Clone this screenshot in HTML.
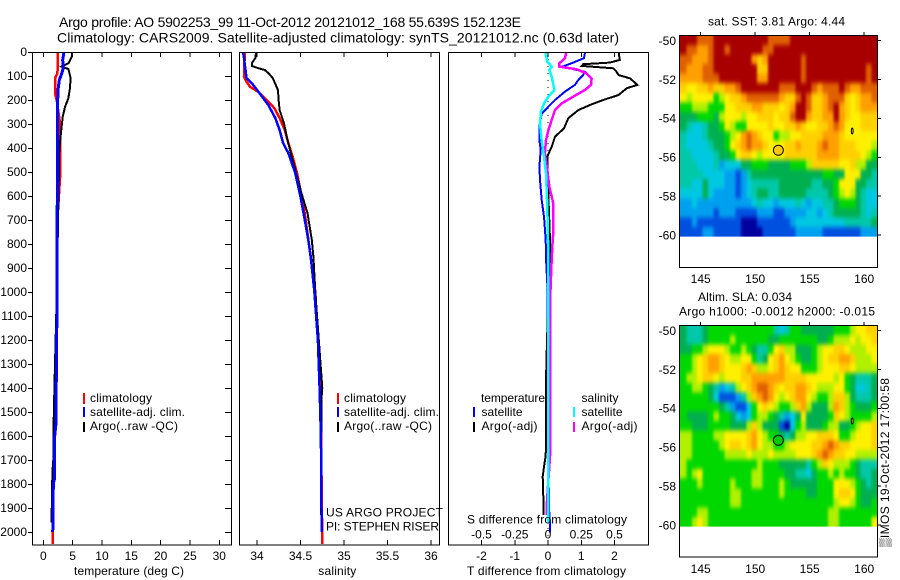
<!DOCTYPE html>
<html lang="en">
<head>
<meta charset="utf-8">
<title>Argo profile 5902253_99</title>
<style>
html,body{margin:0;padding:0;background:#fff;}
body{width:900px;height:580px;overflow:hidden;}
svg{display:block;font-family:"Liberation Sans",sans-serif;font-size:12px;fill:#000;}
</style>
</head>
<body>
<svg id="chart" width="900" height="580" viewBox="0 0 900 580" xmlns="http://www.w3.org/2000/svg">
<defs>
<filter id="map-smooth" x="-5%" y="-5%" width="110%" height="110%" color-interpolation-filters="sRGB"><feGaussianBlur stdDeviation="1.3 2.3"/></filter>
<clipPath id="sst-clip"><rect x="679.5" y="35.5" width="198" height="201.1"/></clipPath>
<clipPath id="sla-clip"><rect x="679.5" y="325.5" width="198" height="201.1"/></clipPath>
</defs>
</svg>
<script>
// ---------- tick labels ----------
const depthTicks = [0,100,200,300,400,500,600,700,800,900,1000,1100,1200,1300,1400,1500,1600,1700,1800,1900,2000];
const tempTicks = [0,5,10,15,20,25,30];
const salTicks = [34,34.5,35,35.5,36];
const tDiffTicks = [-2,-1,0,1,2];
const sDiffTicks = [-0.5,-0.25,0,0.25,0.5];
const lonTicks = [145,150,155,160];
const latTicks = [-50,-52,-54,-56,-58,-60];

// ---------- temperature panel ----------
const tempClimDepth = [0,60,90,108,172,200,255,297,477,525,700,1000,1400,1950,2050];
const tempClimValue = [2.45,2.45,2.4,2.0,2.0,2.28,2.6,2.85,2.85,2.85,2.4,2.3,2.1,1.57,1.57];
const tempSatDepth = [0,33,68,90,117,158,200,550,1000,1400,1550,1600,1780,1800,1960,2000];
const tempSatValue = [3.53,3.3,3.4,3.13,2.73,2.5,2.45,2.39,2.35,2.2,2.15,1.95,1.9,1.7,1.65,1.6];
const tempArgoDepth = [0,19,47,61,71,108,150,192,229,270,339,408,1000,1350,1550,1700,1750,1960];
const tempArgoValue = [4.95,4.85,4.27,3.13,4.27,4.66,4.55,4.27,3.7,3.3,3.0,2.73,2.3,1.95,1.75,1.7,1.55,1.4];

// ---------- salinity panel ----------
const salClimDepth = [0,103,124,145,165,186,207,234,275,325,379,437,505,630,700,1000,1400,2050];
const salClimValue = [33.86,33.85,33.88,33.92,34.01,34.07,34.13,34.2,34.26,34.32,34.36,34.41,34.46,34.53,34.56,34.67,34.73,34.75];
const salSatDepth = [0,25,54,82,110,130,172,221,275,325,379,421,505,603,700,783,858,1000,1200,1400,1600,2000];
const salSatValue = [33.84,33.85,33.86,33.87,33.88,33.94,34.03,34.13,34.21,34.26,34.3,34.36,34.44,34.5,34.55,34.59,34.62,34.66,34.7,34.72,34.735,34.744];
const salArgoDepth = [0,25,47,58,67,75,88,108,158,208,242,297,367,437,505,588,671,783,858,1000,1200,1400,1450,1930];
const salArgoValue = [33.99,33.98,33.94,33.94,34.01,34.09,34.13,34.18,34.24,34.25,34.26,34.31,34.35,34.4,34.45,34.51,34.58,34.63,34.65,34.67,34.71,34.75,34.74,34.735];

// ---------- difference panel (T in deg C, S in psu) ----------
const dtSatDepth = [0,6,26,44,61,83,96,117,137,165,200,235,256,311,367,408,478,533,617,686,783,860,1000,1300,1900,1964,2003];
const dtSatValue = [1.11,1.11,1.08,0.76,0.44,1.11,1.06,0.91,0.81,0.51,0.21,-0.04,-0.19,-0.26,-0.26,-0.22,-0.26,-0.24,-0.19,-0.12,-0.07,-0.06,-0.01,-0.02,0.03,0.06,0.06];
const dtArgoDepth = [0,6,33,44,51,58,68,78,96,110,137,151,179,200,221,242,276,318,353,394,436,478,589,783,860,1000,1200,1367,1658,1692,1728,1769,1853,1929];
const dtArgoValue = [2.13,2.13,2.16,1.86,1.06,1.01,1.96,2.04,2.12,2.47,2.69,2.37,2.12,1.66,1.26,0.91,0.61,0.48,0.21,0.11,-0.02,-0.02,0.01,0.06,0.06,0.02,-0.03,-0.06,-0.06,-0.08,-0.12,-0.16,-0.14,-0.13];
const dsArgoDepth = [0,6,26,47,61,72,89,110,137,158,186,214,242,283,325,367,422,492,561,631,756,783,860,1000,1658,1890,1929];
const dsArgoValue = [0.135,0.135,0.128,0.085,0.085,0.215,0.29,0.328,0.323,0.278,0.19,0.103,0.053,0.028,0.003,-0.015,-0.023,-0.005,0.01,0.04,0.04,0.035,0.028,0.018,0.018,-0.01,-0.01];
const dsSatDepth = [0,6,40,61,75,103,158,186,214,249,297,367,436,506,644,860,1964];
const dsSatValue = [-0.018,-0.018,-0.005,0.028,0.01,0.028,0.048,0.003,-0.03,-0.053,-0.06,-0.048,-0.03,-0.015,-0.005,0.003,0.003];

// ---------- map cells: colour level per 0.5 deg lon column, north to south ----------
const sstGrid = [
[12,12,12,11,11,11,12,12,12,12,12,12,12,12,12,12,11,11,11,11,12,12,12,12,12,12,12,12,12,12,12,12,12,12,12,12],
[12,11,11,10,10,11,12,12,11,12,12,12,12,12,12,11,11,12,12,12,12,12,12,12,12,12,12,12,12,12,12,12,12,12,12,12],
[11,11,10,10,10,11,12,12,12,12,12,12,12,10,9,10,12,12,12,12,12,12,11,12,12,12,12,12,12,12,12,12,12,12,12,12],
[11,10,10,10,11,11,12,12,12,12,12,12,12,12,9,9,12,12,12,12,12,12,11,12,12,12,12,12,12,12,12,12,12,12,11,12],
[10,10,10,10,11,11,11,12,12,12,12,12,12,12,10,10,12,12,12,12,12,12,11,12,12,12,12,12,12,12,12,12,12,12,11,12],
[9,8,8,9,9,10,9,9,10,10,11,12,12,12,12,12,12,12,11,11,11,12,12,12,11,10,11,11,11,12,11,10,10,11,11,11],
[8,7,8,8,8,8,6,7,8,9,9,10,11,11,11,11,11,11,10,9,9,11,12,11,9,9,10,11,11,11,9,8,9,10,10,11],
[6,6,7,7,7,6,6,6,8,8,9,9,9,10,10,9,9,9,8,9,10,12,12,11,9,9,10,11,12,10,9,8,9,10,10,10],
[5,5,5,6,6,6,5,7,8,8,8,7,8,8,9,9,9,8,9,9,11,12,12,10,9,9,10,10,12,10,9,8,8,9,9,9],
[5,4,3,3,4,5,5,6,8,7,6,6,8,8,8,8,9,8,8,9,9,10,9,8,8,9,9,10,11,10,8,8,8,9,9,9],
[4,3,3,3,4,5,5,5,6,7,8,10,11,10,9,8,8,6,7,7,8,8,9,9,9,9,10,10,10,9,8,8,8,8,8,8],
[4,3,3,3,3,4,5,5,6,8,9,10,11,10,10,9,8,8,8,9,9,10,9,9,9,10,11,10,10,9,9,9,8,8,8,7],
[4,4,3,3,3,3,4,5,5,6,8,9,9,8,7,8,8,8,8,9,9,9,9,9,9,10,10,10,10,9,9,9,9,8,7,6],
[4,4,4,3,3,3,4,2,3,3,3,5,5,6,6,6,5,5,5,5,6,6,6,7,9,9,9,9,9,8,8,9,7,7,5,5],
[4,4,4,4,3,3,3,3,2,2,1,2,4,5,5,5,5,5,5,5,5,5,5,5,5,5,6,6,5,5,8,8,8,5,5,4],
[4,4,3,3,5,3,3,3,2,2,1,2,3,4,4,4,4,4,5,5,5,5,5,5,4,4,5,5,6,8,8,8,5,5,4,4],
[3,3,3,3,5,3,2,2,2,2,1,2,3,4,5,5,4,4,5,5,5,5,5,4,4,4,4,5,6,7,8,7,5,4,3,3],
[2,2,3,2,2,2,2,2,2,2,2,2,2,3,4,3,3,2,3,3,3,4,3,2,3,3,4,4,5,6,6,6,5,4,3,3],
[2,2,2,2,2,2,1,2,2,2,1,1,1,1,2,2,2,1,1,2,2,2,2,3,3,2,3,4,5,5,5,5,5,4,3,4],
[1,1,2,1,1,1,1,1,1,1,1,0,0,0,1,1,1,1,1,1,2,3,3,3,3,3,3,3,3,3,4,4,4,4,4,5],
[1,1,1,1,2,2,1,1,1,1,1,0,0,0,0,1,1,1,1,1,1,2,2,2,2,2,1,1,1,1,1,1,1,2,2,2]
];
const slaGrid = [
[5,4,4,4,5,6,6,6,6,6,6,6,6,6,6,6,6,4,3,4,6,6,5,5,5,5,5,5,6,6,6,7,8,8,9,9],
[5,4,4,4,5,6,6,6,6,7,6,6,6,6,6,6,5,5,6,6,6,6,6,6,6,5,5,6,7,7,7,8,7,8,8,9],
[5,5,6,6,7,8,8,8,7,6,6,7,6,5,4,4,6,8,9,7,7,5,5,5,6,7,8,8,9,9,8,7,7,7,8,8],
[6,6,7,8,9,10,10,9,8,7,7,8,8,6,4,5,8,9,10,8,7,6,5,5,6,7,8,9,9,10,10,9,7,7,7,8],
[6,6,7,8,9,10,10,9,8,8,8,9,10,9,7,7,8,9,10,9,8,8,6,6,6,7,8,8,8,9,9,8,7,7,7,7],
[6,7,7,8,9,9,8,7,8,8,8,9,9,10,10,10,10,10,10,9,9,9,9,8,8,8,8,8,7,8,6,5,4,4,4,5],
[6,6,7,7,6,5,4,2,3,4,7,8,9,10,11,11,10,9,8,9,9,10,10,9,8,7,7,7,8,8,6,5,3,3,4,5],
[6,6,6,6,6,5,3,1,1,1,2,4,7,9,10,11,10,8,7,8,9,10,10,8,7,6,6,7,9,9,7,5,4,4,4,5],
[6,6,6,6,6,6,6,5,4,2,1,1,3,6,8,9,8,7,6,6,7,9,10,7,5,5,5,7,10,9,7,6,5,5,5,6],
[6,5,5,5,5,6,7,6,6,5,3,2,3,6,7,7,6,5,4,2,3,5,8,5,5,5,5,6,9,8,7,6,6,6,6,7],
[6,6,5,5,5,6,6,6,6,5,5,5,7,9,7,5,5,5,1,0,3,6,7,5,5,5,6,7,7,5,5,6,7,8,8,9],
[7,7,6,6,6,6,7,7,8,8,8,8,9,10,8,7,6,6,5,4,5,7,7,8,8,9,9,9,8,6,6,7,8,8,8,9],
[7,7,6,6,6,6,6,7,8,9,9,8,9,10,8,7,7,6,6,7,8,8,8,8,9,9,10,11,10,9,9,8,8,8,8,9],
[7,7,6,6,6,6,6,6,7,7,7,7,8,7,7,7,8,7,7,7,7,8,8,8,9,10,11,10,9,9,8,8,7,7,7,7],
[7,6,6,6,6,6,6,6,6,6,6,6,6,6,7,6,6,6,5,5,5,5,5,4,6,7,9,8,7,7,7,6,5,4,4,4],
[7,6,7,8,6,6,6,6,6,6,6,6,6,7,7,6,6,6,6,5,5,4,4,3,5,6,6,7,6,7,6,6,5,4,4,5],
[6,6,6,7,6,6,6,6,6,7,6,6,6,7,7,6,6,6,7,6,5,5,5,5,5,6,6,6,8,8,8,7,6,5,4,5],
[6,6,6,6,6,6,6,6,6,7,7,6,6,6,6,6,6,6,7,6,6,6,6,5,5,6,6,6,8,9,9,8,6,5,5,5],
[6,6,6,6,6,6,6,6,6,7,7,6,6,6,6,6,6,6,6,6,6,6,6,6,6,6,6,6,7,8,8,7,6,5,5,6],
[6,6,6,7,7,6,6,6,6,6,6,6,6,6,6,6,6,6,6,6,6,6,6,6,6,6,6,7,7,6,6,6,6,6,6,6],
[6,6,7,8,7,6,6,6,6,6,6,6,6,6,6,6,6,6,6,6,6,6,6,6,6,6,6,7,7,6,6,6,6,6,6,8]
];
const levelColors = ['#0000a0','#0050e0','#00a0f0','#00c8e0','#00c8a8','#00b050','#00d800','#b0f000','#fff000','#ffd000','#ffa000','#e06000','#a80000'];
const floatLon = 152.123;
const floatLat = -55.639;
const islandLon = 158.9;
const islandLat = -54.65;

// ---------- axis functions ----------
const svgNS = 'http://www.w3.org/2000/svg';
const chart = document.getElementById('chart');
const yDepth = d => 52 + d * 0.24;
const xTemp = t => 43.3 + t * 5.867;
const xSal = s => 257 + (s - 34) * 87;
const xDT = t => 548 + t * 33.25;
const xDS = s => 548 + s * 133;
const xLon = lon => 700.7 + (lon - 145) * 10.9;
const yLat1 = lat => 40.7 + (-50 - lat) * 19.43;
const yLat2 = lat => 330.7 + (-50 - lat) * 19.43;

function line(x1, y1, x2, y2, name) {
  const el = document.createElementNS(svgNS, 'line');
  el.setAttribute('x1', x1);
  el.setAttribute('y1', y1);
  el.setAttribute('x2', x2);
  el.setAttribute('y2', y2);
  el.setAttribute('stroke', '#000');
  el.setAttribute('stroke-width', '1');
  el.setAttribute('shape-rendering', 'crispEdges');
  
  
  chart.appendChild(el);
  return el;
}
function label(x, y, str, anchor, name, fit) {
  const el = document.createElementNS(svgNS, 'text');
  el.setAttribute('x', x);
  el.setAttribute('y', y);
  el.setAttribute('text-anchor', anchor);
  if (fit) el.setAttribute('textLength', fit);
  el.textContent = str;
  
  
  chart.appendChild(el);
  return el;
}
function frame(x, y, w, h, name) {
  const el = document.createElementNS(svgNS, 'rect');
  el.setAttribute('x', x);
  el.setAttribute('y', y);
  el.setAttribute('width', w);
  el.setAttribute('height', h);
  el.setAttribute('fill', 'none');
  el.setAttribute('stroke', '#000');
  el.setAttribute('stroke-width', '1');
  el.setAttribute('shape-rendering', 'crispEdges');
  
  
  chart.appendChild(el);
}
function profile(depths, values, xFn, color, width, name) {
  const el = document.createElementNS(svgNS, 'polyline');
  el.setAttribute('points', depths.map((d, i) => xFn(values[i]).toFixed(1) + ',' + yDepth(d).toFixed(1)).join(' '));
  el.setAttribute('fill', 'none');
  el.setAttribute('stroke', color);
  el.setAttribute('stroke-width', width);
  el.setAttribute('shape-rendering', 'crispEdges');
  
  
  chart.appendChild(el);
}
function legendBar(x, y, h, color, name) {
  const el = document.createElementNS(svgNS, 'rect');
  el.setAttribute('x', x);
  el.setAttribute('y', y);
  el.setAttribute('width', 2);
  el.setAttribute('height', h);
  el.setAttribute('fill', color);
  
  
  chart.appendChild(el);
}
function heatmap(grid, yFn, clipId, name) {
  const dLon = 0.5, dLat = 0.4935;
  const outer = document.createElementNS(svgNS, 'g');
  outer.setAttribute('clip-path', 'url(#' + clipId + ')');
  
  
  chart.appendChild(outer);
  const inner = document.createElementNS(svgNS, 'g');
  inner.setAttribute('filter', 'url(#map-smooth)');
  
  
  outer.appendChild(inner);
  grid.forEach((row, r) => row.forEach((level, c) => {
    // border cells run past the map edge so smoothing never fades into the background
    let x0 = xLon(143.18 + c * dLon);
    let x1 = xLon(143.18 + (c + 1) * dLon);
    let y0 = yFn(-49.72 - r * dLat);
    let y1 = yFn(-49.72 - (r + 1) * dLat);
    if (c === 0) x0 -= 10;
    if (c === row.length - 1) x1 += 10;
    if (r === 0) y0 -= 10;
    if (r === grid.length - 1) y1 += 10;
    const el = document.createElementNS(svgNS, 'rect');
    el.setAttribute('x', x0.toFixed(2));
    el.setAttribute('y', y0.toFixed(2));
    el.setAttribute('width', (x1 - x0 + 0.4).toFixed(2));
    el.setAttribute('height', (y1 - y0 + 0.4).toFixed(2));
    el.setAttribute('fill', levelColors[level]);
    el.setAttribute('shape-rendering', 'crispEdges');
    
    
    inner.appendChild(el);
  }));
}

// ---------- titles ----------
const title1 = document.createElementNS(svgNS, 'text');
title1.setAttribute('x', 59);
title1.setAttribute('y', 27);
title1.setAttribute('font-size', '14');
title1.setAttribute('textLength', '462');


title1.textContent = 'Argo profile: AO 5902253_99 11-Oct-2012 20121012_168 55.639S 152.123E';
chart.appendChild(title1);
const title2 = document.createElementNS(svgNS, 'text');
title2.setAttribute('x', 57);
title2.setAttribute('y', 42.5);
title2.setAttribute('font-size', '14');
title2.setAttribute('textLength', '562');


title2.textContent = 'Climatology: CARS2009. Satellite-adjusted climatology: synTS_20121012.nc (0.63d later)';
chart.appendChild(title2);

// ---------- temperature panel ----------
profile(tempClimDepth, tempClimValue, xTemp, '#ff0000', 2.5, 'temperature-climatology-line');
profile(tempArgoDepth, tempArgoValue, xTemp, '#000000', 2, 'temperature-argo-line');
profile(tempSatDepth, tempSatValue, xTemp, '#0000ff', 3, 'temperature-satellite-line');
frame(32.5, 52.5, 199, 492.5, 'temperature-plot-frame');
depthTicks.forEach(d => {
  line(28, Math.round(yDepth(d)) + 0.5, 32, Math.round(yDepth(d)) + 0.5, 'depth-tick-left');
  line(225, Math.round(yDepth(d)) + 0.5, 231, Math.round(yDepth(d)) + 0.5, 'depth-tick-right');
  label(27, yDepth(d) + 4, String(d), 'end', 'depth-tick-label');
});
tempTicks.forEach(t => {
  line(xTemp(t), 52, xTemp(t), 57, 'temperature-tick-top');
  line(xTemp(t), 540, xTemp(t), 545, 'temperature-tick-bottom');
  label(xTemp(t), 560, String(t), 'middle', 'temperature-tick-label');
});
label(74, 575, 'temperature (deg C)', 'start', 'temperature-axis-title', 110);
legendBar(83, 393, 11, '#ff0000', 'legend-climatology-bar');
legendBar(83, 407, 10, '#0000ff', 'legend-satellite-bar');
legendBar(83, 422, 10, '#000000', 'legend-argo-bar');
label(90, 402, 'climatology', 'start', 'legend-climatology-label', 62);
label(90, 416, 'satellite-adj. clim.', 'start', 'legend-satellite-label', 95);
label(90, 430, 'Argo(..raw -QC)', 'start', 'legend-argo-label', 88);

// ---------- salinity panel ----------
profile(salClimDepth, salClimValue, xSal, '#ff0000', 2.5, 'salinity-climatology-line');
profile(salArgoDepth, salArgoValue, xSal, '#000000', 2, 'salinity-argo-line');
profile(salSatDepth, salSatValue, xSal, '#0000ff', 2.5, 'salinity-satellite-line');
frame(239.5, 52.5, 200, 492.5, 'salinity-plot-frame');
salTicks.forEach(s => {
  line(xSal(s), 52, xSal(s), 57, 'salinity-tick-top');
  line(xSal(s), 540, xSal(s), 545, 'salinity-tick-bottom');
  label(xSal(s), 560, String(s), 'middle', 'salinity-tick-label');
});
label(318.3, 575, 'salinity', 'start', 'salinity-axis-title', 38);
legendBar(337, 393, 11, '#ff0000', 'legend-climatology-bar');
legendBar(337, 407, 10, '#0000ff', 'legend-satellite-bar');
legendBar(337, 422, 10, '#000000', 'legend-argo-bar');
label(344, 402, 'climatology', 'start', 'legend-climatology-label', 62);
label(344, 416, 'satellite-adj. clim.', 'start', 'legend-satellite-label', 95);
label(344, 430, 'Argo(..raw -QC)', 'start', 'legend-argo-label', 88);
label(326, 516.7, 'US ARGO PROJECT', 'start', 'project-credit', 117);
label(326, 530.7, 'PI: STEPHEN RISER', 'start', 'pi-credit', 113);

// ---------- difference panel ----------
const zeroLine = line(xDT(0), 52, xDT(0), 545, 'zero-difference-line');
zeroLine.setAttribute('stroke-dasharray', '1 6');
profile(dtSatDepth, dtSatValue, xDT, '#0000ff', 2, 'temperature-satellite-difference-line');
profile(dtArgoDepth, dtArgoValue, xDT, '#000000', 2, 'temperature-argo-difference-line');
profile(dsArgoDepth, dsArgoValue, xDS, '#ff00ff', 2.5, 'salinity-argo-difference-line');
profile(dsSatDepth, dsSatValue, xDS, '#00ffff', 2.5, 'salinity-satellite-difference-line');
frame(448.5, 52.5, 200, 492.5, 'difference-plot-frame');
tDiffTicks.forEach(t => {
  line(xDT(t), 52, xDT(t), 57, 'difference-tick-top');
  line(xDT(t), 540, xDT(t), 545, 'difference-tick-bottom');
  label(xDT(t), 560, String(t), 'middle', 'temperature-difference-tick-label');
});
sDiffTicks.forEach(s => {
  label(xDS(s), 538.5, String(s), 'middle', 'salinity-difference-tick-label');
});
label(467, 523.5, 'S difference from climatology', 'start', 'salinity-difference-axis-title', 160);
label(467, 575, 'T difference from climatology', 'start', 'temperature-difference-axis-title', 159);
label(481, 402, 'temperature', 'start', 'legend-temperature-heading', 64);
label(481.5, 416, 'satellite', 'start', 'legend-t-satellite-label', 41);
label(481.5, 430, 'Argo(-adj)', 'start', 'legend-t-argo-label', 56);
label(581.5, 402, 'salinity', 'start', 'legend-salinity-heading', 37);
label(581.5, 416, 'satellite', 'start', 'legend-s-satellite-label', 41);
label(581.5, 430, 'Argo(-adj)', 'start', 'legend-s-argo-label', 56);
legendBar(473, 407, 10, '#0000ff', 'legend-t-satellite-bar');
legendBar(473, 422, 10, '#000000', 'legend-t-argo-bar');
legendBar(573, 407, 10, '#00ffff', 'legend-s-satellite-bar');
legendBar(573, 422, 10, '#ff00ff', 'legend-s-argo-bar');

// ---------- SST map ----------
heatmap(sstGrid, yLat1, 'sst-clip', 'sst-map-cell');
frame(679.5, 35.5, 198, 232, 'sst-map-frame');
label(708, 25.7, 'sat. SST: 3.81 Argo: 4.44', 'start', 'sst-map-title', 137);
lonTicks.forEach(lon => {
  line(xLon(lon), 32, xLon(lon), 35, 'sst-lon-tick');
  label(xLon(lon), 283, String(lon), 'middle', 'sst-lon-tick-label');
});
latTicks.forEach(lat => {
  line(878, yLat1(lat), 881, yLat1(lat), 'sst-lat-tick');
  label(676, yLat1(lat) + 4.3, String(lat), 'end', 'sst-lat-tick-label');
});
const sstFloat = document.createElementNS(svgNS, 'circle');
sstFloat.setAttribute('cx', xLon(floatLon));
sstFloat.setAttribute('cy', yLat1(floatLat));
sstFloat.setAttribute('r', 5);
sstFloat.setAttribute('fill', '#ffc800');
sstFloat.setAttribute('stroke', '#000');


chart.appendChild(sstFloat);
const sstIsland = document.createElementNS(svgNS, 'ellipse');
sstIsland.setAttribute('cx', xLon(islandLon));
sstIsland.setAttribute('cy', yLat1(islandLat));
sstIsland.setAttribute('rx', 0.9);
sstIsland.setAttribute('ry', 3);
sstIsland.setAttribute('fill', '#ffe800');
sstIsland.setAttribute('stroke', '#000');


chart.appendChild(sstIsland);

// ---------- SLA map ----------
heatmap(slaGrid, yLat2, 'sla-clip', 'sla-map-cell');
frame(679.5, 325.5, 198, 231.5, 'sla-map-frame');
label(698, 301, 'Altim. SLA: 0.034', 'start', 'sla-map-title', 94);
label(679, 315.7, 'Argo h1000: -0.0012 h2000: -0.015', 'start', 'sla-map-subtitle', 196);
lonTicks.forEach(lon => {
  line(xLon(lon), 322, xLon(lon), 325, 'sla-lon-tick');
  label(xLon(lon), 573, String(lon), 'middle', 'sla-lon-tick-label');
});
latTicks.forEach(lat => {
  line(878, yLat2(lat), 881, yLat2(lat), 'sla-lat-tick');
  label(676, yLat2(lat) + 4.3, String(lat), 'end', 'sla-lat-tick-label');
});
const slaFloat = document.createElementNS(svgNS, 'circle');
slaFloat.setAttribute('cx', xLon(floatLon));
slaFloat.setAttribute('cy', yLat2(floatLat));
slaFloat.setAttribute('r', 5);
slaFloat.setAttribute('fill', '#00c800');
slaFloat.setAttribute('stroke', '#000');


chart.appendChild(slaFloat);
const slaIsland = document.createElementNS(svgNS, 'ellipse');
slaIsland.setAttribute('cx', xLon(islandLon));
slaIsland.setAttribute('cy', yLat2(islandLat));
slaIsland.setAttribute('rx', 0.9);
slaIsland.setAttribute('ry', 3);
slaIsland.setAttribute('fill', '#ffe800');
slaIsland.setAttribute('stroke', '#000');


chart.appendChild(slaIsland);

// ---------- timestamp ----------
const stamp = document.createElementNS(svgNS, 'text');
stamp.setAttribute('transform', 'translate(889,547) rotate(-90)');
stamp.setAttribute('textLength', '169');


stamp.textContent = '\u2592IMOS 19-Oct-2012 17:00:58';
chart.appendChild(stamp);
</script>
</body>
</html>
